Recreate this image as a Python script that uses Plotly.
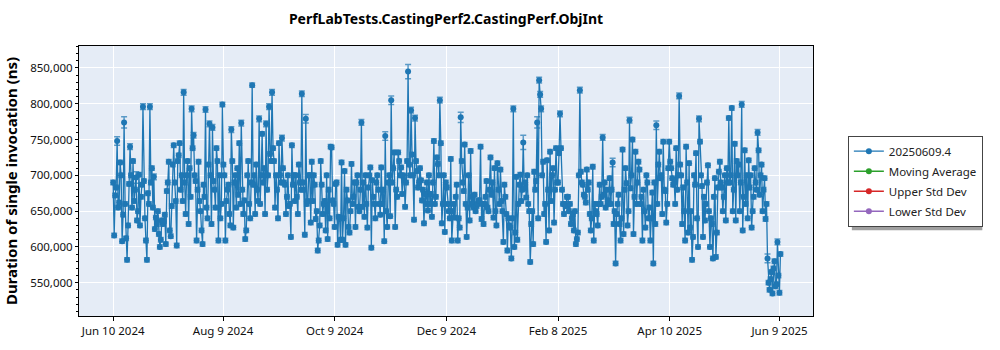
import plotly.graph_objects as go
import pandas as pd

title_text = "PerfLabTests.CastingPerf2.CastingPerf.ObjInt"
y_title = "Duration of single invocation (ns)"
series_name = "20250609.4"
extra_names = ["Moving Average", "Upper Std Dev", "Lower Std Dev"]
extra_colors = ["#2ca02c", "#d62728", "#9467bd"]
main_color = "#1f77b4"

run_start = "2024-06-10 00:00"
run_end = "2025-06-09 12:00"

# durations in thousands of ns, read left to right, one row per ~10 px column
duration_k = [
    [690, 616, 683, 748, 662, 718, 608],
    [645, 774, 612, 582, 688, 740, 655],
    [720, 664, 697, 637, 701, 630, 687],
    [796, 692, 609, 582, 660, 796, 710],
    [655, 698, 641, 632, 618, 600, 637],
    [632, 636, 604, 678, 719, 623, 657],
    [715, 742, 664, 602, 728, 745, 700],
    [664, 816, 646, 700, 632, 710, 793],
    [738, 756, 692, 609, 719, 664, 623],
    [604, 687, 792, 655, 715, 772, 632],
    [767, 692, 655, 738, 609, 700, 660],
    [799, 715, 609, 664, 687, 646, 764],
    [720, 627, 700, 655, 673, 745, 773],
    [680, 646, 611, 623, 720, 660, 690],
    [826, 687, 646, 715, 664, 779, 700],
    [758, 690, 646, 772, 700, 796, 720],
    [816, 738, 655, 700, 640, 745, 690],
    [752, 710, 687, 646, 700, 657, 614],
    [742, 687, 664, 700, 646, 715, 680],
    [814, 690, 617, 779, 664, 700, 634],
    [719, 664, 687, 639, 595, 609, 720],
    [687, 646, 664, 623, 611, 680, 740],
    [739, 665, 628, 688, 603, 642, 610],
    [718, 610, 706, 603, 665, 628, 650],
    [716, 660, 690, 628, 700, 656, 680],
    [774, 656, 642, 700, 627, 683, 711],
    [599, 693, 660, 640, 700, 680, 645],
    [711, 660, 608, 755, 628, 690, 643],
    [805, 690, 732, 628, 670, 732, 700],
    [711, 674, 693, 656, 720, 845, 700],
    [791, 729, 638, 780, 706, 683, 710],
    [693, 665, 633, 674, 690, 651, 660],
    [674, 642, 748, 660, 725, 716, 805],
    [745, 633, 700, 621, 683, 660, 640],
    [723, 609, 660, 641, 687, 609, 627],
    [781, 720, 678, 743, 614, 655, 637],
    [734, 660, 655, 673, 657, 660, 665],
    [740, 639, 632, 660, 692, 655, 680],
    [725, 673, 641, 710, 630, 717, 660],
    [708, 664, 607, 687, 646, 595, 630],
    [627, 584, 793, 600, 698, 610, 687],
    [701, 664, 746, 682, 669, 700, 650],
    [579, 632, 604, 705, 692, 774, 833],
    [813, 793, 719, 646, 607, 721, 623],
    [733, 664, 710, 634, 738, 690, 731],
    [786, 738, 660, 646, 657, 670, 650],
    [660, 632, 646, 623, 604, 611, 700],
    [819, 705, 687, 673, 662, 708, 690],
    [646, 623, 712, 609, 650, 646, 660],
    [687, 660, 753, 673, 655, 680, 665],
    [696, 660, 718, 632, 577, 646, 673],
    [632, 609, 736, 618, 710, 689, 650],
    [777, 682, 750, 618, 733, 660, 719],
    [708, 660, 609, 680, 627, 700, 640],
    [655, 609, 676, 577, 632, 770, 715],
    [733, 696, 646, 747, 678, 634, 710],
    [747, 719, 696, 687, 660, 738, 700],
    [811, 715, 632, 683, 609, 740, 620],
    [717, 627, 582, 614, 687, 731, 600],
    [779, 747, 685, 614, 637, 660, 714],
    [650, 600, 632, 584, 696, 586, 683],
    [705, 719, 683, 650, 700, 637, 690],
    [780, 690, 794, 650, 744, 637, 700],
    [715, 650, 799, 623, 735, 660, 640],
    [721, 683, 627, 650, 710, 690, 760],
    [735, 673, 715, 650, 696, 639, 584],
    [550, 540, 565, 535, 580, 545, 607, 560, 536, 590],
]

# extra runs inside the dense middle band of each column (thousands of ns)
band_k = [
    [672, 655, 700], [660, 630, 700], [680, 650, 670], [640, 675, 690],
    [625, 650, 610], [645, 690, 615], [690, 720, 680], [690, 720, 670],
    [700, 680, 650], [670, 640, 700], [680, 720, 640], [700, 680, 630],
    [690, 710, 660], [665, 700, 640], [700, 680, 660], [710, 680, 730],
    [720, 680, 700], [690, 670, 660], [700, 670, 690], [680, 660, 700],
    [700, 650, 630], [660, 700, 640], [660, 690, 640], [640, 680, 620],
    [670, 690, 650], [690, 660, 700], [670, 690, 660], [680, 650, 700],
    [710, 680, 720], [700, 690, 715], [700, 720, 690], [680, 660, 700],
    [690, 670, 700], [660, 690, 650], [650, 670, 640], [690, 660, 700],
    [670, 650, 665], [660, 670, 650], [690, 650, 680], [650, 670, 640],
    [640, 620, 660], [680, 690, 660], [650, 680, 640], [700, 660, 680],
    [700, 680, 690], [680, 660, 670], [640, 650, 620], [690, 670, 680],
    [640, 660, 630], [670, 690, 660], [680, 650, 660], [640, 680, 630],
    [700, 670, 690], [670, 650, 690], [640, 690, 660], [700, 680, 660],
    [710, 690, 680], [700, 650, 690], [650, 700, 640], [700, 670, 690],
    [640, 670, 620], [690, 670, 710], [700, 680, 720], [690, 670, 700],
    [700, 670, 680], [700, 680, 660], [555, 570, 548],
]

# error bar half-widths (thousands of ns) for the rows of duration_k
error_k = [
    [3, 3, 3, 6, 3, 3, 3], [3, 8, 3, 3, 3, 4, 3], [3, 3, 8, 3, 3, 3, 3],
    [4, 3, 3, 3, 3, 4, 3], [3, 4, 3, 3, 3, 3, 3], [3, 3, 3, 3, 3, 3, 3],
    [3, 3, 3, 3, 3, 3, 3], [3, 4, 3, 3, 3, 3, 4], [3, 4, 3, 3, 3, 3, 3],
    [3, 3, 4, 3, 3, 4, 3], [4, 3, 3, 3, 3, 3, 3], [3, 3, 3, 3, 3, 3, 4],
    [3, 3, 3, 3, 3, 3, 4], [3, 3, 3, 3, 3, 3, 3], [3, 3, 3, 3, 3, 4, 3],
    [3, 3, 3, 4, 3, 4, 3], [4, 3, 3, 3, 3, 3, 3], [4, 3, 3, 3, 3, 3, 3],
    [3, 3, 3, 3, 3, 3, 3], [4, 3, 3, 6, 3, 3, 3], [3, 3, 3, 3, 3, 3, 3],
    [3, 3, 3, 3, 3, 3, 3], [3, 3, 3, 3, 3, 3, 3], [3, 3, 3, 3, 3, 3, 3],
    [3, 3, 3, 3, 3, 3, 3], [4, 3, 3, 3, 3, 3, 3], [3, 3, 3, 3, 3, 3, 3],
    [3, 3, 3, 6, 3, 3, 3], [6, 3, 3, 3, 3, 3, 3], [3, 3, 3, 3, 3, 10, 3],
    [4, 3, 3, 4, 3, 3, 3], [3, 3, 3, 3, 3, 3, 3], [3, 3, 3, 3, 3, 3, 4],
    [3, 3, 3, 3, 3, 3, 3], [3, 3, 3, 3, 3, 3, 3], [7, 3, 3, 3, 3, 3, 3],
    [3, 3, 3, 3, 3, 3, 3], [3, 3, 3, 3, 3, 3, 3], [3, 3, 3, 3, 3, 3, 3],
    [3, 3, 3, 3, 3, 3, 3], [3, 3, 4, 3, 3, 3, 3], [3, 3, 10, 3, 3, 3, 3],
    [3, 3, 3, 3, 3, 8, 4], [4, 4, 3, 3, 3, 3, 3], [3, 3, 3, 3, 3, 3, 3],
    [4, 3, 3, 3, 3, 3, 3], [3, 3, 3, 3, 3, 3, 3], [4, 3, 3, 3, 3, 3, 3],
    [3, 3, 3, 3, 3, 3, 3], [3, 3, 4, 3, 3, 3, 3], [3, 3, 6, 3, 3, 3, 3],
    [3, 3, 3, 3, 3, 3, 3], [4, 3, 3, 3, 3, 3, 3], [3, 3, 3, 3, 3, 3, 3],
    [3, 3, 3, 3, 3, 6, 3], [3, 3, 3, 3, 3, 3, 3], [3, 3, 3, 3, 3, 3, 3],
    [4, 3, 3, 3, 3, 3, 3], [3, 3, 3, 3, 3, 3, 3], [4, 3, 3, 3, 3, 3, 3],
    [3, 3, 3, 3, 3, 3, 3], [3, 3, 3, 3, 3, 3, 3], [3, 3, 3, 3, 3, 3, 3],
    [3, 3, 4, 3, 3, 3, 3], [3, 3, 3, 3, 3, 3, 4], [3, 3, 3, 3, 3, 3, 6],
    [3, 3, 3, 3, 3, 3, 4, 3, 3, 3],
]
band_error_k = 3

x_tick_vals = ["2024-06-10", "2024-08-09", "2024-10-09", "2024-12-09",
               "2025-02-08", "2025-04-10", "2025-06-09"]
x_tick_text = ["Jun 10 2024", "Aug 9 2024", "Oct 9 2024", "Dec 9 2024",
               "Feb 8 2025", "Apr 10 2025", "Jun 9 2025"]
y_tick_vals = [550000, 600000, 650000, 700000, 750000, 800000, 850000]

# interleave the band runs between the column's other runs (chronological order)
vals, errs = [], []
for row, band, erow in zip(duration_k, band_k, error_k):
    slots = {2: 0, 4: 1, 6: 2}
    for j, (v, e) in enumerate(zip(row, erow)):
        if j in slots:
            vals.append(band[slots[j]] * 1000)
            errs.append(band_error_k * 1000)
        vals.append(v * 1000)
        errs.append(e * 1000)

times = pd.date_range(run_start, run_end, periods=len(vals))

font_family = "Noto Sans, Open Sans, sans-serif"

fig = go.Figure()
fig.add_trace(go.Scatter(
    x=times, y=vals, mode="lines+markers", name=series_name,
    line=dict(color=main_color, width=1.3),
    marker=dict(color=main_color, size=6),
    error_y=dict(type="data", array=errs, visible=True,
                 color="rgba(31,119,180,0.7)", thickness=1.5, width=3),
    legendgroup="g0",
))
for i, (nm, col) in enumerate(zip(extra_names, extra_colors)):
    fig.add_trace(go.Scatter(
        x=[None], y=[None], mode="lines+markers", name=nm,
        line=dict(color=col, width=1.5), marker=dict(color=col, size=6),
        legendgroup="g%d" % (i + 1),
    ))

fig.update_layout(
    width=1000, height=350,
    margin=dict(l=76, r=187, t=46, b=30),
    paper_bgcolor="white",
    plot_bgcolor="#E5ECF6",
    font=dict(family=font_family, size=12, color="#111"),
    title=dict(text="<b>" + title_text + "</b>", x=0.5, xref="paper",
               y=0.945, yanchor="middle", font=dict(size=14, color="black")),
    showlegend=True,
    legend=dict(x=1.0475, xanchor="left", y=0.668, yanchor="top",
                bgcolor="white", bordercolor="#444", borderwidth=1,
                tracegroupgap=1, font=dict(size=11.5, color="#222")),
    shapes=[dict(type="rect", xref="paper", yref="paper",
                 x0=(852 - 76) / 737, x1=(983 - 76) / 737,
                 y0=(320 - 233) / 274, y1=(320 - 141) / 274,
                 fillcolor="#a0a0a0", line=dict(width=0), layer="above")],
)
fig.update_xaxes(
    range=["2024-05-22 08:00", "2025-06-27 07:00"],
    tickvals=x_tick_vals, ticktext=x_tick_text,
    showgrid=True, gridcolor="white", gridwidth=1,
    showline=True, linecolor="black", linewidth=1, mirror=True,
    ticks="outside", ticklen=4, tickcolor="black",
    tickfont=dict(size=11.5), zeroline=False,
)
fig.update_yaxes(
    range=[503500, 880700],
    tickvals=y_tick_vals, tickformat=",",
    showgrid=True, gridcolor="white", gridwidth=1,
    showline=True, linecolor="black", linewidth=1, mirror=True,
    ticks="outside", ticklen=3, tickcolor="black",
    minor=dict(ticks="outside", ticklen=2, dtick=10000, tickcolor="black", showgrid=False),
    tickfont=dict(size=11.5), zeroline=False,
    title=dict(text="<b>" + y_title + "</b>", font=dict(size=15, color="black"), standoff=8),
)

fig.write_html("out.html")
